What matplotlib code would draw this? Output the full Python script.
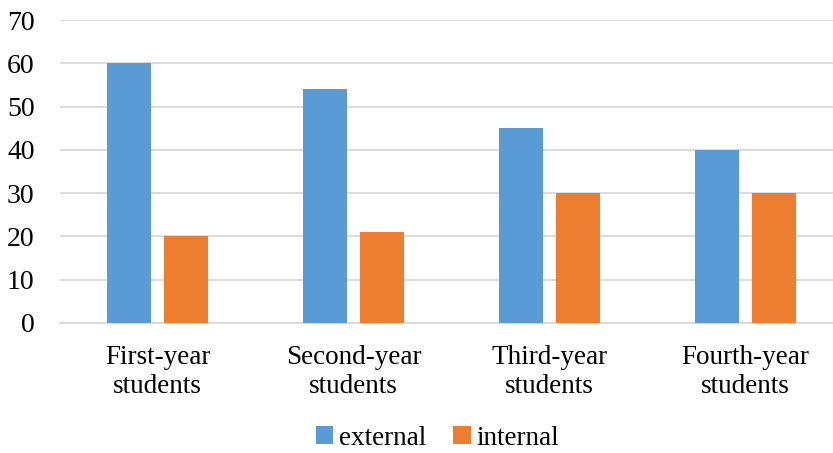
import matplotlib.pyplot as plt
import numpy as np

plt.rcParams['font.family'] = ['Liberation Serif', 'DejaVu Serif']

categories = ['First-year\nstudents', 'Second-year\nstudents',
              'Third-year\nstudents', 'Fourth-year\nstudents']
external = [60, 54, 45, 40]
internal = [20, 21, 30, 30]

fig = plt.figure(figsize=(8.33, 4.53), dpi=100)
# plot area runs slightly past the right edge of the canvas
ax = fig.add_axes([59.5 / 833, 1 - 323 / 453, 784 / 833, 303 / 453])

x = np.arange(len(categories))
w = 0.225
off = 0.145
ax.bar(x - off, external, w, color='#5B9BD5', label='external', zorder=3)
ax.bar(x + off, internal, w, color='#ED7D31', label='internal', zorder=3)

ax.set_xlim(-0.5, len(categories) - 0.5)
ax.set_ylim(0, 70)
ax.set_yticks(range(0, 71, 10))
ax.yaxis.grid(True, color='#D9D9D9', linewidth=1.3, zorder=0)
ax.set_xticks(x)
ax.set_xticklabels(categories, fontsize=19.5, linespacing=1.2)
ax.tick_params(axis='y', labelsize=20, length=0, pad=18)
ax.tick_params(axis='x', length=0, pad=16)
for s in ['top', 'right', 'left']:
    ax.spines[s].set_visible(False)
ax.spines['bottom'].set_color('#D9D9D9')
ax.spines['bottom'].set_linewidth(1.3)

fig.legend(loc='lower center', bbox_to_anchor=(0.525, 0.005), ncol=2, frameon=False,
           fontsize=19.5, handlelength=0.65, handleheight=0.65, handletextpad=0.2,
           columnspacing=1.0, borderaxespad=0, borderpad=0)

fig.savefig('out.png', dpi=100)
